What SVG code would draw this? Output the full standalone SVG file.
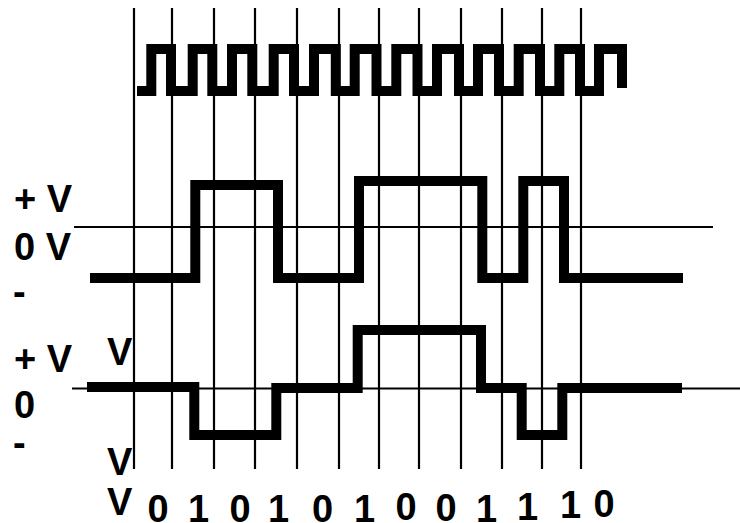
<svg xmlns="http://www.w3.org/2000/svg" width="740" height="523" viewBox="0 0 740 523">
  <style>
    .grid { stroke: #000; stroke-width: 2.2; fill: none; }
    .wave { stroke: #000; stroke-width: 10; fill: none; stroke-linejoin: miter; stroke-linecap: butt; }
    .lbl { font-family: "Liberation Sans", Arial, Helvetica, sans-serif; font-weight: bold; font-size: 38px; fill: #000; }
    .bit { font-family: "Liberation Sans", Arial, Helvetica, sans-serif; font-weight: bold; font-size: 38px; fill: #000; text-anchor: middle; }
  </style>
  <rect width="740" height="523" fill="#fff"/>

  <!-- bit-cell boundaries and zero-level reference lines -->
  <g id="grid" class="grid">
    <line x1="134" y1="8" x2="134" y2="469"/>
    <line x1="172" y1="8" x2="172" y2="469"/>
    <line x1="214" y1="8" x2="214" y2="469"/>
    <line x1="255" y1="8" x2="255" y2="469"/>
    <line x1="297" y1="8" x2="297" y2="469"/>
    <line x1="339" y1="8" x2="339" y2="469"/>
    <line x1="379" y1="8" x2="379" y2="469"/>
    <line x1="419" y1="8" x2="419" y2="469"/>
    <line x1="461" y1="8" x2="461" y2="469"/>
    <line x1="502" y1="8" x2="502" y2="469"/>
    <line x1="542" y1="8" x2="542" y2="469"/>
    <line x1="581" y1="8" x2="581" y2="469"/>
    <line x1="74" y1="227" x2="713" y2="227"/>
    <line x1="72" y1="388.5" x2="740" y2="388.5"/>
  </g>

  <!-- clock -->
  <g id="clock">
    <path class="wave" d="M137,91 H151.3 V49 H171 V91 H192.7 V49 H212.3 V91 H232 V49 H252.3 V91 H273.7 V49 H294 V91 H314 V49 H335.8 V91 H354.7 V49 H376.5 V91 H396.3 V49 H417.5 V91 H437 V49 H459 V91 H478 V49 H499 V91 H518.7 V49 H540 V91 H559.3 V49 H580 V91 H599 V49 H622 V88"/>
  </g>

  <!-- unipolar signal -->
  <g id="signal-unipolar">
    <path class="wave" d="M90,278 H195.3 V185 H278 V278 H359 V181 H482.3 V278 H523.3 V181 H564 V278 H683"/>
  </g>

  <!-- bipolar signal -->
  <g id="signal-bipolar">
    <path class="wave" d="M87,387 H194.3 V435 H276.3 V388 H357.7 V330 H481 V388 H521.7 V435 H562.3 V388 H682"/>
  </g>

  <!-- level labels, unipolar -->
  <g id="labels-unipolar">
    <text class="lbl" x="14" y="212">+ V</text>
    <text class="lbl" x="14" y="260">0 V</text>
    <text class="lbl" x="13" y="305">-</text>
  </g>

  <!-- level labels, bipolar -->
  <g id="labels-bipolar">
    <text class="lbl" x="14" y="372">+ V</text>
    <text class="lbl" x="107" y="365">V</text>
    <text class="lbl" x="14" y="418">0</text>
    <text class="lbl" x="13" y="456">-</text>
    <text class="lbl" x="107" y="475">V</text>
    <text class="lbl" x="107" y="515">V</text>
  </g>

  <!-- data bits -->
  <g id="bits">
    <text class="bit" x="158" y="522">0</text>
    <text class="bit" x="198.5" y="522">1</text>
    <text class="bit" x="240" y="522">0</text>
    <text class="bit" x="278.5" y="522">1</text>
    <text class="bit" x="322.5" y="522">0</text>
    <text class="bit" x="364.5" y="522">1</text>
    <text class="bit" x="406" y="520">0</text>
    <text class="bit" x="446" y="521">0</text>
    <text class="bit" x="486.5" y="522">1</text>
    <text class="bit" x="527.5" y="520">1</text>
    <text class="bit" x="570.5" y="518">1</text>
    <text class="bit" x="604" y="517">0</text>
  </g>
</svg>
